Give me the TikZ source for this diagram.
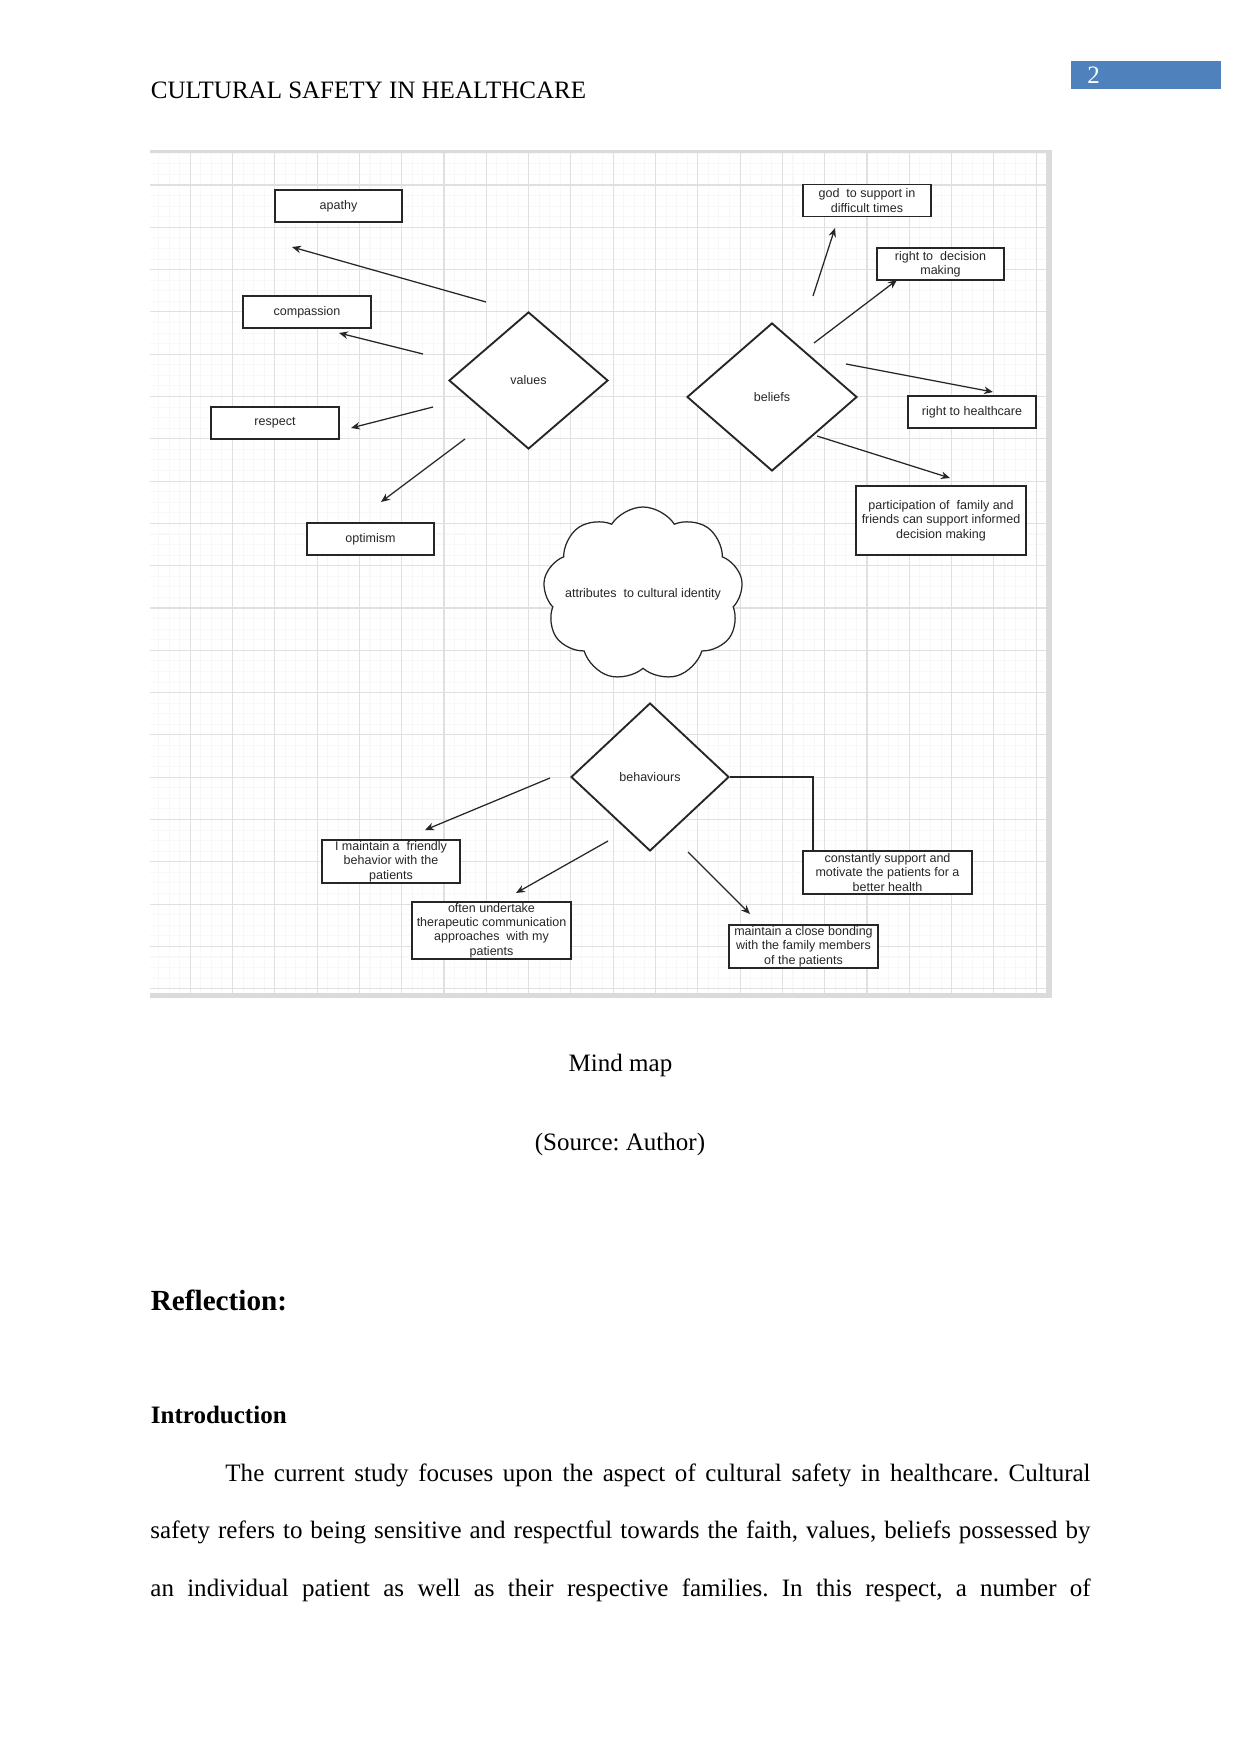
\documentclass[tikz,border=0pt]{standalone}
\usepackage{fontspec}
\setmainfont{Liberation Serif}
\newfontfamily\mapfont{Liberation Sans}
\usepackage{xcolor}
\usetikzlibrary{arrows.meta, shapes.geometric, shapes.symbols}

\definecolor{pageblue}{HTML}{4F81BD}
\definecolor{gridmajor}{HTML}{E0E0E0}
\definecolor{gridminor}{HTML}{F8F8F8}
\newcommand{\pxu}{0.4797pt}
\frenchspacing

\begin{document}
\begin{tikzpicture}[
  x=0.4797pt, y=-0.4797pt,
  every node/.style={inner sep=0pt},
  bodytext/.style={anchor=base west, font=\fontsize{12}{14}\selectfont},
  mapfontstyle/.style={font=\mapfont\fontsize{6}{6.9}\selectfont, text=black!85},
  idea/.style={
    rectangle, draw=black!85, line width=0.9pt, fill=white,
    minimum width=127.5*\pxu, minimum height=32*\pxu,
    inner xsep=1pt, inner ysep=0.5pt,
    align=center, mapfontstyle,
  },
  topic/.style={
    diamond, draw=black!85, line width=0.9pt, fill=white,
    align=center, mapfontstyle,
  },
  identity/.style={
    cloud, cloud puffs=9, cloud puff arc=115, cloud ignores aspect,
    draw=black!85, line width=0.6pt, fill=white,
    minimum width=200*\pxu, minimum height=174*\pxu,
  },
  arr/.style={-{Stealth[length=4.3pt,width=3.6pt]}, draw=black!85, line width=0.6pt},
  link/.style={draw=black!85, line width=0.6pt},
]
  \useasboundingbox (0,0) rectangle (1241,1754);
  \fill[white] (0,0) rectangle (1241,1754);

  % running head
  \node[bodytext] (runhead) at (150.5,98.3) {CULTURAL SAFETY IN HEALTHCARE};
  \fill[pageblue] (1071,61) rectangle (1221,88.7);
  \node[bodytext, text=white] (pagenum) at (1087,83.3) {2};

  % picture frame and grid
  \fill[black!14] (150,150) rectangle (1052,998);
  \fill[white] (150,153) rectangle (1046,992.5);
  \begin{scope}
    \clip (150,153) rectangle (1046,992.5);
    \foreach \k in {0,...,85}
      \draw[gridminor, line width=0.5pt] ({147.9+10.575*\k},153) -- ({147.9+10.575*\k},992.5);
    \foreach \k in {0,...,81}
      \draw[gridminor, line width=0.5pt] (150,{142.7+10.575*\k}) -- (1046,{142.7+10.575*\k});
    \foreach \k in {0,...,21}
      \draw[gridmajor, line width=0.55pt] ({147.9+42.3*\k},153) -- ({147.9+42.3*\k},992.5);
    \foreach \k in {0,...,20}
      \draw[gridmajor, line width=0.55pt] (150,{142.7+42.3*\k}) -- (1046,{142.7+42.3*\k});
  \end{scope}

  % values
  \node[idea] (apathy)     at (338.5,206) {apathy};
  \node[idea] (compassion) at (307,312)   {compassion};
  \node[idea] (respect)    at (275,423)   {respect};
  \node[idea] (optimism)   at (370.5,539) {optimism};
  \node[topic, minimum width=159*\pxu, minimum height=137*\pxu] (values) at (528.5,380.5) {values};

  % beliefs
  \node[idea] (god)        at (867,200.5) {god\ \ to support in\\difficult times};
  \node[idea] (decision)   at (940.5,264) {right to\ \ decision\\making};
  \node[idea] (healthcare) at (972,412)   {right to healthcare};
  \node[idea, minimum width=170*\pxu, minimum height=69*\pxu] (family) at (941,520.5)
    {participation of\ \ family and\\friends can support informed\\decision making};
  \node[topic, minimum width=170*\pxu, minimum height=148*\pxu] (beliefs) at (772,397) {beliefs};

  % centre
  \node[identity, label={[mapfontstyle]center:attributes\ \ to cultural identity}] (identity) at (643,594) {};

  % behaviours
  \node[topic, minimum width=158*\pxu, minimum height=148*\pxu] (behaviours) at (650,777) {behaviours};
  \node[idea, minimum width=138*\pxu, minimum height=43*\pxu] (friendly) at (391,861.5)
    {I maintain a\ \ friendly\\behavior with the\\patients};
  \node[idea, minimum width=159*\pxu, minimum height=53*\pxu] (therapy) at (491.5,930.5)
    {often undertake\\therapeutic communication\\approaches\ \ with my\\patients};
  \node[idea, minimum width=149*\pxu, minimum height=43*\pxu] (bonding) at (803.5,946.5)
    {maintain a close bonding\\with the family members\\of the patients};
  \node[idea, minimum width=169*\pxu, minimum height=43*\pxu] (motivate) at (887.5,872.5)
    {constantly support and\\motivate the patients for a\\better health};

  % arrow ends
  \coordinate (va1) at (486,302); \coordinate (va2) at (292,247);
  \coordinate (vc1) at (423,354); \coordinate (vc2) at (339,333);
  \coordinate (vr1) at (433,407); \coordinate (vr2) at (351,428);
  \coordinate (vo1) at (465,439); \coordinate (vo2) at (381,502);
  \coordinate (bg1) at (813,296); \coordinate (bg2) at (835,228);
  \coordinate (bd1) at (814,343); \coordinate (bd2) at (897,280);
  \coordinate (bh1) at (846,364); \coordinate (bh2) at (993,392);
  \coordinate (bf1) at (817,436); \coordinate (bf2) at (950,478);
  \coordinate (hf1) at (550,778); \coordinate (hf2) at (425,830);
  \coordinate (ht1) at (608,841); \coordinate (ht2) at (516,893);
  \coordinate (hb1) at (688,852); \coordinate (hb2) at (750,914);

  \draw[arr] (va1) -- (va2);
  \draw[arr] (vc1) -- (vc2);
  \draw[arr] (vr1) -- (vr2);
  \draw[arr] (vo1) -- (vo2);
  \draw[arr] (bg1) -- (bg2);
  \draw[arr] (bd1) -- (bd2);
  \draw[arr] (bh1) -- (bh2);
  \draw[arr] (bf1) -- (bf2);
  \draw[arr] (hf1) -- (hf2);
  \draw[arr] (ht1) -- (ht2);
  \draw[arr] (hb1) -- (hb2);
  \draw[link] (behaviours.east) -| ([xshift=5.3pt]motivate.north west);

  % caption and text
  \node[bodytext, anchor=base] (caption) at (620.5,1071.7) {Mind map};
  \node[bodytext, anchor=base] (source)  at (620,1150)     {(Source: Author)};
  \node[bodytext, font=\fontsize{14}{16}\selectfont\bfseries] (reflect) at (150.5,1310.7) {Reflection:};
  \node[bodytext, font=\fontsize{12}{14}\selectfont\bfseries] (intro)   at (150.5,1423.3) {Introduction};
  \node[bodytext] (line1) at (150,1481.7)
    {\makebox[451pt][s]{\hspace*{36pt}The current study focuses upon the aspect of cultural safety in healthcare. Cultural}};
  \node[bodytext] (line2) at (150,1538.3)
    {\makebox[451pt][s]{safety refers to being sensitive and respectful towards the faith, values, beliefs possessed by}};
  \node[bodytext] (line3) at (150,1596)
    {\makebox[451pt][s]{an individual patient as well as their respective families. In this respect, a number of}};
\end{tikzpicture}
\end{document}
